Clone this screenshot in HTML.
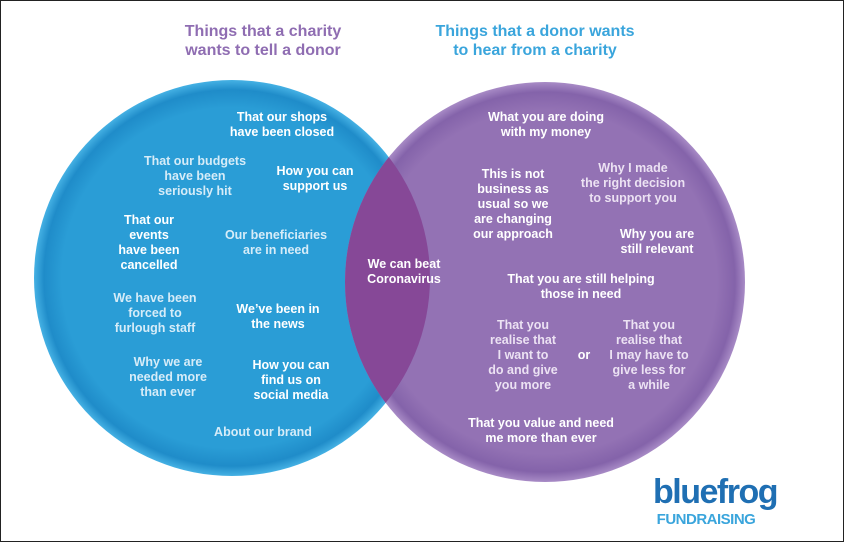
<!DOCTYPE html>
<html><head><meta charset="utf-8"><style>
html,body{margin:0;padding:0;background:#fff}
svg{display:block}
text{font-family:"Liberation Sans",sans-serif;font-weight:bold;text-anchor:middle}
.w{fill:#fff;font-size:12.5px}
.l{fill:#d6ecf8;font-size:12.5px}
.p{fill:#ece2f3;font-size:12.5px}
</style></head><body>
<svg width="844" height="542" viewBox="0 0 844 542">
<defs>
<radialGradient id="gb" cx="50%" cy="50%" r="50%">
<stop offset="0.86" stop-color="#2a9dd6"/><stop offset="0.95" stop-color="#1f8cc9"/><stop offset="1" stop-color="#45b1e4"/>
</radialGradient>
<radialGradient id="gp" cx="50%" cy="50%" r="50%">
<stop offset="0.86" stop-color="#9372b4"/><stop offset="0.95" stop-color="#8463aa"/><stop offset="1" stop-color="#a88bc6"/>
</radialGradient>
<clipPath id="cl"><circle cx="232" cy="278" r="198"/></clipPath>
</defs>
<rect x="0.5" y="0.5" width="843" height="541" fill="#fff" stroke="#222" stroke-width="1"/>
<text x="263" y="36" fill="#8f6db2" style="font-size:16px">Things that a charity</text>
<text x="263" y="55" fill="#8f6db2" style="font-size:16px">wants to tell a donor</text>
<text x="535" y="36" fill="#3aa5dc" style="font-size:16px">Things that a donor wants</text>
<text x="535" y="55" fill="#3aa5dc" style="font-size:16px">to hear from a charity</text>
<circle cx="232" cy="278" r="198" fill="url(#gb)"/>
<circle cx="545" cy="282" r="200" fill="url(#gp)"/>
<circle cx="545" cy="282" r="200" fill="#864897" clip-path="url(#cl)"/>
<g class="w">
<text x="282" y="121">That our shops</text><text x="282" y="136">have been closed</text>
<text x="315" y="175">How you can</text><text x="315" y="190">support us</text>
<text x="149" y="224">That our</text><text x="149" y="239">events</text><text x="149" y="254">have been</text><text x="149" y="269">cancelled</text>
<text x="278" y="313">We’ve been in</text><text x="278" y="328">the news</text>
<text x="291" y="369">How you can</text><text x="291" y="384">find us on</text><text x="291" y="399">social media</text>
<text x="404" y="268">We can beat</text><text x="404" y="283">Coronavirus</text>
<text x="546" y="121">What you are doing</text><text x="546" y="136">with my money</text>
<text x="513" y="178">This is not</text><text x="513" y="193">business as</text><text x="513" y="208">usual so we</text><text x="513" y="223">are changing</text><text x="513" y="238">our approach</text>
<text x="657" y="238">Why you are</text><text x="657" y="253">still relevant</text>
<text x="581" y="283">That you are still helping</text><text x="581" y="298">those in need</text>
<text x="584" y="359">or</text>
<text x="541" y="427">That you value and need</text><text x="541" y="442">me more than ever</text>
</g>
<g class="l">
<text x="195" y="165">That our budgets</text><text x="195" y="180">have been</text><text x="195" y="195">seriously hit</text>
<text x="276" y="239">Our beneficiaries</text><text x="276" y="254">are in need</text>
<text x="155" y="302">We have been</text><text x="155" y="317">forced to</text><text x="155" y="332">furlough staff</text>
<text x="168" y="366">Why we are</text><text x="168" y="381">needed more</text><text x="168" y="396">than ever</text>
<text x="263" y="436">About our brand</text>
</g>
<g class="p">
<text x="633" y="172">Why I made</text><text x="633" y="187">the right decision</text><text x="633" y="202">to support you</text>
<text x="523" y="329">That you</text><text x="523" y="344">realise that</text><text x="523" y="359">I want to</text><text x="523" y="374">do and give</text><text x="523" y="389">you more</text>
<text x="649" y="329">That you</text><text x="649" y="344">realise that</text><text x="649" y="359">I may have to</text><text x="649" y="374">give less for</text><text x="649" y="389">a while</text>
</g>
<text x="715" y="503" fill="#1f6fb3" style="font-size:34px;letter-spacing:-1.5px">bluefrog</text>
<text x="706" y="524" fill="#3aa5dc" style="font-size:15px;letter-spacing:-0.5px">FUNDRAISING</text>
</svg>
</body></html>
